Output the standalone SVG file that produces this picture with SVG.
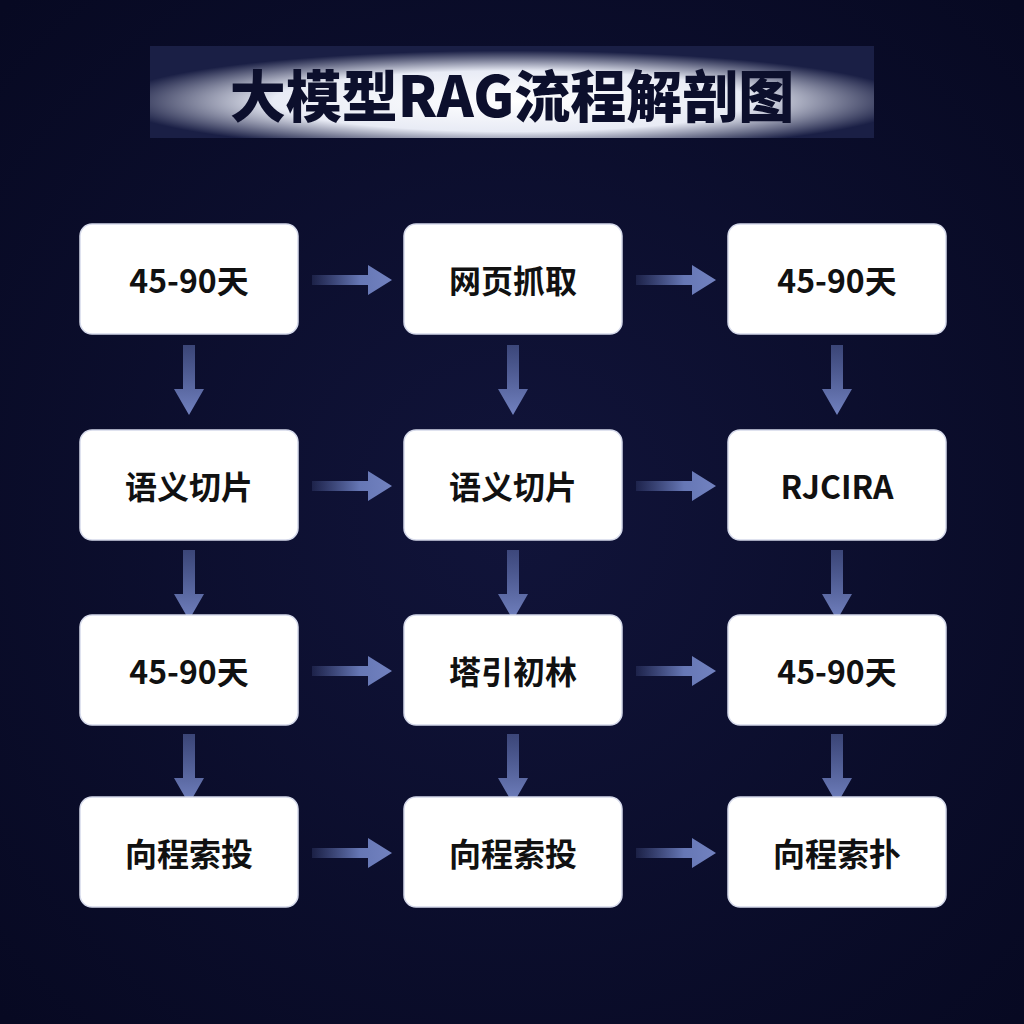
<svg xmlns="http://www.w3.org/2000/svg" width="1024" height="1024" viewBox="0 0 1024 1024">
<defs>
<radialGradient id="bg" cx="0.5" cy="0.5" r="0.7"><stop offset="0" stop-color="#11143a"/><stop offset="1" stop-color="#070922"/></radialGradient>
<radialGradient id="tg" cx="0.5" cy="0.6" r="0.55"><stop offset="0" stop-color="#ffffff"/><stop offset="0.6" stop-color="#e8ebf5"/><stop offset="1" stop-color="#1a1f45"/></radialGradient>
<linearGradient id="ah" x1="0" y1="0" x2="1" y2="0"><stop offset="0" stop-color="#5a6aa8" stop-opacity="0.2"/><stop offset="0.6" stop-color="#6677b5"/><stop offset="1" stop-color="#7282c0"/></linearGradient>
<linearGradient id="av" x1="0" y1="0" x2="0" y2="1"><stop offset="0" stop-color="#5a6aa8" stop-opacity="0.6"/><stop offset="1" stop-color="#7282c0"/></linearGradient>
<filter id="sh" x="-20%" y="-20%" width="140%" height="140%"><feGaussianBlur in="SourceAlpha" stdDeviation="3"/><feFlood flood-color="#aab4ff" flood-opacity="0.35"/><feComposite operator="in" in2="SourceGraphic"/><feMerge><feMergeNode/><feMergeNode in="SourceGraphic"/></feMerge></filter>
<g id="ha"><path d="M0,-5 H56 V-15 L80,0 L56,15 V5 H0 Z" fill="url(#ah)"/></g>
<g id="va"><path d="M-6,0 H6 V44 H15 L0,70 L-15,44 H-6 Z" fill="url(#av)"/></g>
</defs>
<style>
.n rect{fill:#ffffff;stroke:#d5d9ea;stroke-width:1.5}
.n text{font-family:"Noto Sans CJK SC","Noto Sans",sans-serif;font-weight:700;font-size:32px;fill:#111;text-anchor:middle;dominant-baseline:central}
</style>
<rect width="1024" height="1024" fill="url(#bg)"/>
<rect x="150" y="46" width="724" height="92" fill="url(#tg)"/>
<text x="512" y="92" font-family="Noto Sans CJK SC,sans-serif" font-weight="900" font-size="56" fill="#0c0f2c" text-anchor="middle" dominant-baseline="central">大模型RAG流程解剖图</text>
<g id="connectors">
<use href="#ha" x="312" y="280"/><use href="#ha" x="636" y="280"/>
<use href="#ha" x="312" y="486"/><use href="#ha" x="636" y="486"/>
<use href="#ha" x="312" y="671"/><use href="#ha" x="636" y="671"/>
<use href="#ha" x="312" y="853"/><use href="#ha" x="636" y="853"/>
<use href="#va" x="189" y="345"/><use href="#va" x="513" y="345"/><use href="#va" x="837" y="345"/>
<use href="#va" x="189" y="550"/><use href="#va" x="513" y="550"/><use href="#va" x="837" y="550"/>
<use href="#va" x="189" y="734"/><use href="#va" x="513" y="734"/><use href="#va" x="837" y="734"/>
</g>
<g id="n1" class="n"><rect x="80" y="224" width="218" height="110" rx="12"/><text x="189" y="279">45-90天</text></g>
<g id="n2" class="n"><rect x="404" y="224" width="218" height="110" rx="12"/><text x="513" y="279">网页抓取</text></g>
<g id="n3" class="n"><rect x="728" y="224" width="218" height="110" rx="12"/><text x="837" y="279">45-90天</text></g>
<g id="n4" class="n"><rect x="80" y="430" width="218" height="110" rx="12"/><text x="189" y="485">语义切片</text></g>
<g id="n5" class="n"><rect x="404" y="430" width="218" height="110" rx="12"/><text x="513" y="485">语义切片</text></g>
<g id="n6" class="n"><rect x="728" y="430" width="218" height="110" rx="12"/><text x="837" y="485">RJCIRA</text></g>
<g id="n7" class="n"><rect x="80" y="615" width="218" height="110" rx="12"/><text x="189" y="670">45-90天</text></g>
<g id="n8" class="n"><rect x="404" y="615" width="218" height="110" rx="12"/><text x="513" y="670">塔引初林</text></g>
<g id="n9" class="n"><rect x="728" y="615" width="218" height="110" rx="12"/><text x="837" y="670">45-90天</text></g>
<g id="n10" class="n"><rect x="80" y="797" width="218" height="110" rx="12"/><text x="189" y="852">向程索投</text></g>
<g id="n11" class="n"><rect x="404" y="797" width="218" height="110" rx="12"/><text x="513" y="852">向程索投</text></g>
<g id="n12" class="n"><rect x="728" y="797" width="218" height="110" rx="12"/><text x="837" y="852">向程索扑</text></g>
</svg>
